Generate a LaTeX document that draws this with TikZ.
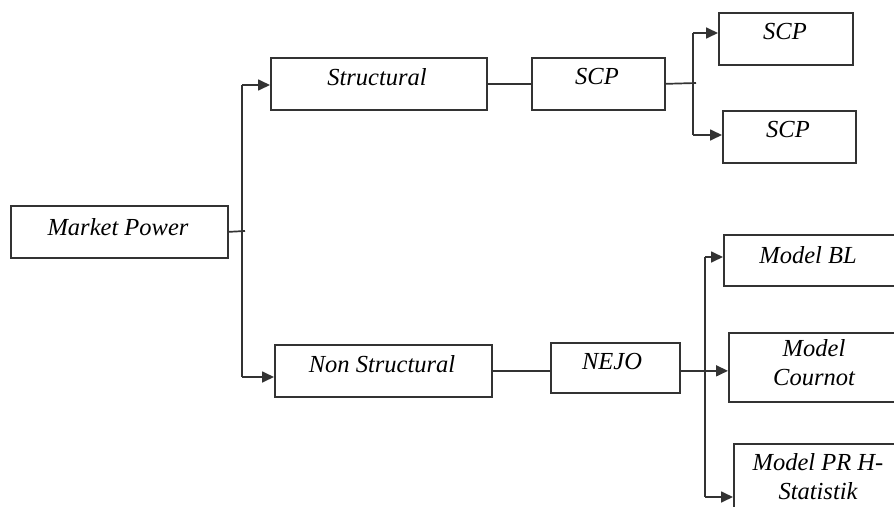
\documentclass[tikz,border=0pt]{standalone}
\usepackage{fontspec}
\setmainfont{Liberation Serif}
\usetikzlibrary{arrows.meta}
\tikzset{
  box/.style={draw=black!80, line width=1.7pt, inner sep=0pt, anchor=north west},
  txt/.style={font=\fontsize{24.5}{29}\selectfont\itshape, inner sep=0pt, align=center, text=black},
  conn/.style={draw=black!80, line width=1.7pt},
  arr/.style={conn, -{Triangle[length=12pt,width=11pt]}}
}
\begin{document}
\begin{tikzpicture}[x=1pt,y=-1pt]
\useasboundingbox (0,0) rectangle (894,506);
\clip (0,0) rectangle (894,506);
% boxes
\node[box, minimum width=217pt, minimum height=52pt] (mp) at (10,205) {};
\node[box, minimum width=216pt, minimum height=52pt] (st) at (270,57) {};
\node[box, minimum width=217pt, minimum height=52pt] (ns) at (274,344) {};
\node[box, minimum width=133pt, minimum height=52pt] (scp) at (531,57) {};
\node[box, minimum width=129pt, minimum height=50pt] (nejo) at (550,342) {};
\node[box, minimum width=134pt, minimum height=52pt] (scpa) at (718,12) {};
\node[box, minimum width=133pt, minimum height=52pt] (scpb) at (722,110) {};
\node[box, minimum width=190pt, minimum height=51pt] (bl) at (723,234) {};
\node[box, minimum width=190pt, minimum height=69pt] (cour) at (728,332) {};
\node[box, minimum width=190pt, minimum height=90pt] (pr) at (733,443) {};
% texts
\node[txt] (mpt) at (118,227) {Market Power};
\node[txt] (stt) at (377,77) {Structural};
\node[txt] (nst) at (382,364) {Non Structural};
\node[txt] (scpt) at (597,77) {SCP};
\node[txt] (nejot) at (612,362) {NEJO};
\node[txt] (scpat) at (785,32) {SCP};
\node[txt] (scpbt) at (788,130) {SCP};
\node[txt] (blt) at (808,255) {Model BL};
\node[txt] (court) at (814,363) {Model\\Cournot};
\node[txt] (prt) at (818,477) {Model PR H-\\Statistik};
% junctions
\coordinate (ja) at (245,231);
\coordinate (jat) at (242,85);
\coordinate (jab) at (242,377);
\coordinate (jb) at (696,83);
\coordinate (jbt) at (693,33);
\coordinate (jbb) at (693,135);
\coordinate (jct) at (705,257);
\coordinate (jcb) at (705,497);
% connectors
\draw[conn] (mp.east) -- (ja);
\draw[conn] (jat) -- (jab);
\draw[arr] (jat) -- (jat -| st.west);
\draw[arr] (jab) -- (jab -| ns.west);
\draw[conn] (st.east) -- (scp.west);
\draw[conn] (scp.east) -- (jb);
\draw[conn] (jbt) -- (jbb);
\draw[arr] (jbt) -- (jbt -| scpa.west);
\draw[arr] (jbb) -- (jbb -| scpb.west);
\draw[conn] (ns.east) -- (ns.east -| nejo.west);
\draw[arr] ([yshift=-3pt]nejo.east) -- ([yshift=-3pt]nejo.east -| cour.west);
\draw[conn] (jct) -- (jcb);
\draw[arr] (jct) -- (jct -| bl.west);
\draw[arr] (jcb) -- (jcb -| pr.west);
\end{tikzpicture}
\end{document}
